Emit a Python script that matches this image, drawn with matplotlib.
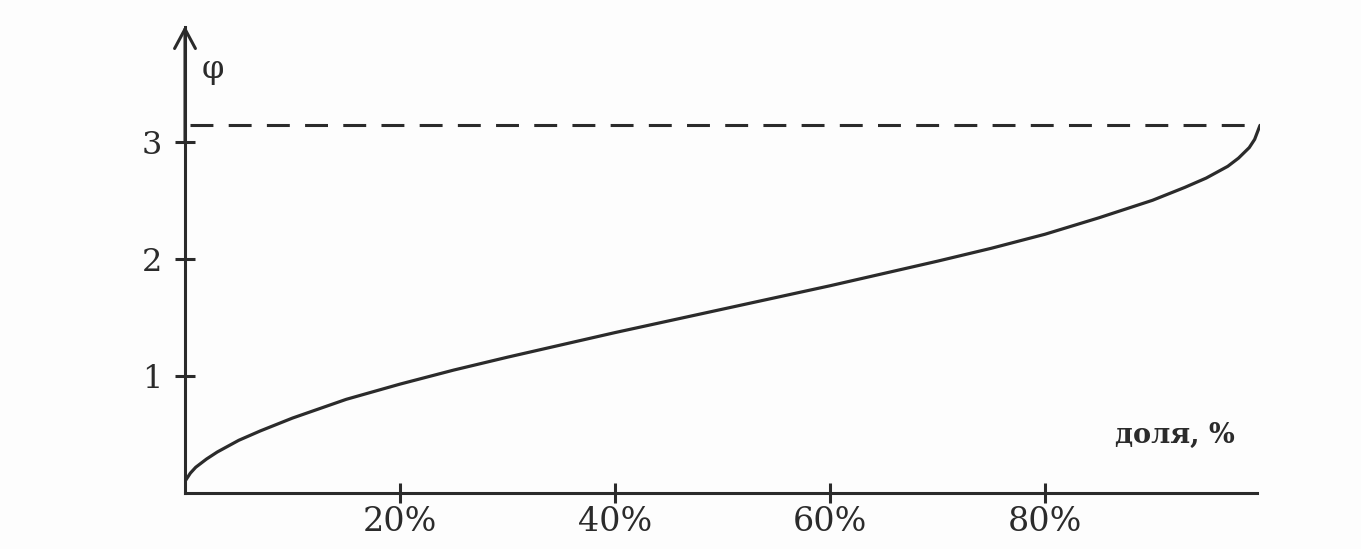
import numpy as np
import matplotlib
matplotlib.use("Agg")
import matplotlib.pyplot as plt

# доля, % -> φ
share_pct = [0, 0.5, 1, 2, 3, 5, 7, 10, 15, 20, 25, 30, 40, 50, 60, 70,
             75, 80, 85, 90, 93, 95, 97, 98, 99, 99.5, 100]
phi_vals = [0.10, 0.17, 0.22, 0.29, 0.35, 0.45, 0.53, 0.64, 0.80, 0.93,
            1.05, 1.16, 1.37, 1.57, 1.77, 1.98, 2.09, 2.21, 2.35, 2.50,
            2.61, 2.69, 2.79, 2.86, 2.95, 3.02, 3.14]
phi_max = 3.14

x_ticks = [20, 40, 60, 80]
x_ticklabels = ["20%", "40%", "60%", "80%"]
y_ticks = [1, 2, 3]
y_ticklabels = ["1", "2", "3"]

ink = "#2b2b2b"
plt.rcParams["font.family"] = ["DejaVu Serif"]

fig = plt.figure(figsize=(13.61, 5.49), dpi=100)
fig.patch.set_facecolor("#fdfdfd")
ax = fig.add_axes([185 / 1361, 56 / 549, 1075 / 1361, 466 / 549])
ax.set_facecolor("none")

ax.set_xlim(0, 100)
ax.set_ylim(0, 3.98)

# curve + asymptote
ax.plot(share_pct, phi_vals, color=ink, lw=2.3, solid_capstyle="round")
ax.plot([0.5, 99.3], [phi_max, phi_max], color=ink, lw=2.2,
        dashes=(7.5, 5), dash_capstyle="butt")

# axes
for s in ["top", "right"]:
    ax.spines[s].set_visible(False)
ax.spines["left"].set_color(ink)
ax.spines["bottom"].set_color(ink)
ax.spines["left"].set_linewidth(2.2)
ax.spines["bottom"].set_linewidth(2.2)
ax.spines["bottom"].set_bounds(0, 99.7)
# arrow on top of the φ axis
ax.annotate("", xy=(0, 3.99), xytext=(0, 3.0),
            arrowprops=dict(arrowstyle="->,head_length=1.4,head_width=0.75",
                            color=ink, lw=2.2, shrinkA=0, shrinkB=0),
            annotation_clip=False)

ax.set_xticks(x_ticks)
ax.set_xticklabels(x_ticklabels, fontsize=24, color=ink)
ax.set_yticks(y_ticks)
ax.set_yticklabels(y_ticklabels, fontsize=23, color=ink)
ax.tick_params(direction="inout", length=15, width=2.2, color=ink)
ax.tick_params(axis="x", pad=2)
ax.tick_params(axis="y", pad=9)

ax.text(2.6, 3.62, "φ", fontsize=23, color=ink, ha="center", va="center")
ax.text(86.5, 0.43, "доля, %", fontsize=19.5, fontweight="bold", color=ink,
        ha="left", va="baseline")

fig.savefig("out.png", dpi=100, facecolor=fig.get_facecolor())
